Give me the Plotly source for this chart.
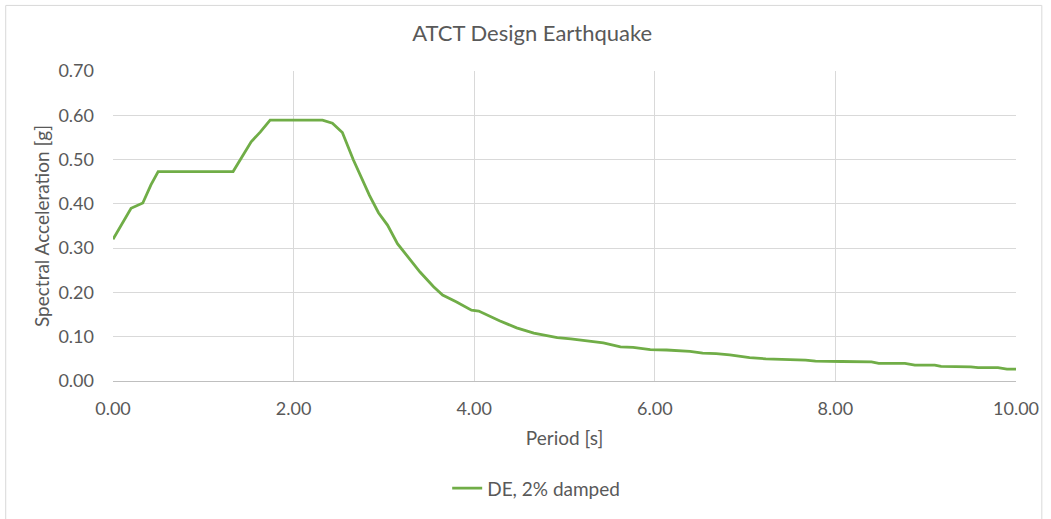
import plotly.graph_objects as go

# Design spectrum: period [s] vs spectral acceleration [g]
period = [0.00, 0.20, 0.33, 0.42, 0.50, 1.33, 1.53, 1.63, 1.74, 2.32, 2.43, 2.54,
          2.66, 2.84, 2.94, 3.04, 3.15, 3.25, 3.40, 3.55, 3.65, 3.80, 3.97, 4.05,
          4.28, 4.47, 4.66, 4.92, 5.07, 5.43, 5.62, 5.76, 5.95, 6.13, 6.28, 6.39,
          6.53, 6.68, 6.83, 7.05, 7.23, 7.41, 7.67, 7.78, 8.00, 8.07, 8.40, 8.48,
          8.77, 8.88, 9.10, 9.17, 9.50, 9.58, 9.80, 9.90, 10.00]
sa = [0.320, 0.390, 0.402, 0.443, 0.473, 0.473, 0.540, 0.562, 0.589, 0.589, 0.582, 0.561,
      0.500, 0.419, 0.380, 0.352, 0.310, 0.284, 0.246, 0.213, 0.194, 0.179, 0.160, 0.158,
      0.136, 0.120, 0.108, 0.098, 0.095, 0.086, 0.077, 0.076, 0.071, 0.070, 0.068, 0.067,
      0.063, 0.062, 0.059, 0.053, 0.050, 0.049, 0.047, 0.045, 0.045, 0.044, 0.043, 0.040,
      0.040, 0.036, 0.036, 0.033, 0.032, 0.030, 0.030, 0.027, 0.027]

series_name = "DE, 2% damped"
chart_title = "ATCT Design Earthquake"
x_title = "Period [s]"
y_title = "Spectral Acceleration [g]"

FONT = "Lato, 'Open Sans', sans-serif"
TXT = "#595959"
GRID = "#d9d9d9"

W, H = 1051, 519
L, R, T, B = 113, 29, 71, 136
pw, ph = W - L - R, H - T - B

fig = go.Figure()
fig.add_trace(go.Scatter(
    x=period, y=sa, mode="lines", name=series_name,
    line=dict(color="#70ad47", width=2.8),
))

fig.update_layout(
    width=W, height=H,
    margin=dict(l=L, r=R, t=T, b=B),
    paper_bgcolor="white", plot_bgcolor="white",
    font=dict(family=FONT, color=TXT, size=19),
    title=dict(text=chart_title, x=(535 - L) / pw, xref="paper", xanchor="center",
               y=1 - 33 / H, yanchor="middle",
               font=dict(size=22, color=TXT, family=FONT)),
    showlegend=True,
    legend=dict(orientation="h", x=(539 - L) / pw, xanchor="center",
                y=(H - B - 491) / ph, yanchor="middle",
                font=dict(size=19, color=TXT), itemwidth=30),
    xaxis=dict(range=[0, 10], dtick=2, tickformat=".2f",
               showgrid=True, gridcolor=GRID, gridwidth=1,
               showline=True, linecolor="#bfbfbf", linewidth=1,
               zeroline=False, ticks="", ticklabelstandoff=11,
               tickfont=dict(size=18, color=TXT),
               title=dict(text=x_title, font=dict(size=19, color=TXT), standoff=14)),
    yaxis=dict(range=[0, 0.7], dtick=0.1, tickformat=".2f",
               showgrid=True, gridcolor=GRID, gridwidth=1,
               zeroline=False, showline=False, ticks="", ticklabelstandoff=18,
               tickfont=dict(size=18, color=TXT),
               title=dict(text=y_title, font=dict(size=19, color=TXT), standoff=3)),
    shapes=[dict(type="rect", xref="paper", yref="paper",
                 x0=(5 - L) / pw, x1=(1048 - L) / pw,
                 y0=(H - B - 560) / ph, y1=(H - B - 5) / ph,
                 line=dict(color=GRID, width=1), fillcolor="rgba(0,0,0,0)",
                 layer="below")],
)

fig.write_html("out.html")
